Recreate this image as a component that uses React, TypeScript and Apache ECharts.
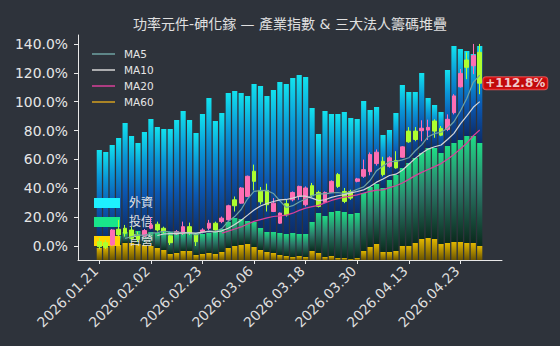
import React, { useEffect, useRef } from 'react';
import * as echarts from 'echarts';

const TITLE = '功率元件-砷化鎵 — 產業指數 & 三大法人籌碼堆疊';

const dates = [
  '2026.01.21', '2026.01.22', '2026.01.23', '2026.01.26', '2026.01.27', '2026.01.28', '2026.01.29', '2026.01.30',
  '2026.02.02', '2026.02.03', '2026.02.04', '2026.02.05', '2026.02.06', '2026.02.09', '2026.02.10', '2026.02.11',
  '2026.02.23', '2026.02.24', '2026.02.25', '2026.02.26', '2026.03.02', '2026.03.03', '2026.03.04', '2026.03.05',
  '2026.03.06', '2026.03.09', '2026.03.10', '2026.03.11', '2026.03.12', '2026.03.13', '2026.03.16', '2026.03.17',
  '2026.03.18', '2026.03.19', '2026.03.20', '2026.03.23', '2026.03.24', '2026.03.25', '2026.03.26', '2026.03.27',
  '2026.03.30', '2026.03.31', '2026.04.01', '2026.04.02', '2026.04.07', '2026.04.08', '2026.04.09', '2026.04.10',
  '2026.04.13', '2026.04.14', '2026.04.15', '2026.04.16', '2026.04.17', '2026.04.20', '2026.04.21', '2026.04.22',
  '2026.04.23', '2026.04.24', '2026.04.27', '2026.04.28',
];

// Industry index, % change (candles)
const openPct = [3.0, 2.3, 0.7, 11.6, 12.3, 11.1, 7.7, 7.0, 12.3, 15.1, 12.3, 7.0, 8.4, 8.8, 13.4, 7.7, 10.0, 12.3, 15.8, 16.9, 18.1, 32.0, 29.7, 34.3, 51.8, 38.5, 38.5, 23.9, 15.8, 29.3, 32.0, 34.3, 28.6, 41.8, 37.1, 30.2, 37.1, 49.5, 37.8, 37.8, 44.8, 48.3, 51.5, 57.1, 58.7, 55.2, 59.2, 61.5, 79.6, 79.6, 79.9, 80.3, 86.6, 81.5, 80.8, 92.4, 110.3, 128.9, 124.9, 134.2];
const closePct = [-0.5, -0.9, 11.1, 7.7, 8.8, 5.4, 4.7, 10.7, 14.6, 11.1, 10.0, 2.3, 10.0, 13.4, 9.3, 3.0, 11.1, 15.8, 11.1, 19.3, 27.9, 27.9, 40.2, 48.3, 44.8, 30.6, 28.6, 29.7, 22.8, 21.6, 37.1, 41.3, 40.2, 34.8, 27.4, 37.1, 44.8, 41.3, 30.9, 33.2, 46.5, 52.9, 63.4, 65.0, 49.5, 61.1, 54.1, 68.7, 72.2, 73.8, 81.6, 82.2, 79.6, 76.8, 87.8, 104.0, 119.6, 123.8, 131.9, 112.8];
const lowPct = [-2.1, -2.1, 0.0, 6.5, 6.5, 4.2, 3.0, 6.3, 11.6, 10.0, 8.8, 0.7, 7.7, 7.7, 7.7, 0.0, 8.8, 11.1, 10.7, 15.8, 17.6, 23.9, 29.3, 33.9, 38.5, 28.8, 23.9, 23.5, 15.3, 20.4, 30.9, 32.0, 27.4, 33.9, 26.7, 29.7, 36.7, 40.2, 29.7, 32.0, 44.1, 47.2, 49.0, 55.7, 48.3, 54.3, 53.6, 61.1, 71.5, 72.6, 72.6, 73.5, 75.0, 76.1, 79.6, 91.2, 109.8, 115.6, 119.1, 105.2];
const highPct = [5.6, 4.2, 11.8, 18.1, 14.6, 13.4, 10.0, 11.8, 20.0, 16.9, 13.4, 7.7, 11.1, 16.9, 16.2, 8.8, 12.3, 18.1, 16.9, 20.4, 28.6, 34.3, 40.9, 48.8, 56.4, 40.9, 43.2, 33.2, 23.2, 32.0, 37.8, 41.8, 41.3, 43.7, 38.3, 37.8, 45.5, 50.6, 40.2, 39.0, 47.2, 59.9, 64.8, 66.9, 61.8, 62.2, 65.7, 69.2, 82.4, 82.4, 87.1, 87.5, 87.8, 83.1, 91.2, 105.2, 122.6, 134.2, 140.0, 140.0];

// Institutional holdings, stacked (arbitrary units)
const dealer = [12, 13, 16, 15, 17, 17, 16, 15, 14, 12, 10, 6, 7, 9, 9, 5, 6, 7, 6, 8, 12, 14, 15, 16, 13, 10, 8, 7, 5, 4, 3, 4, 3, 9, 7, 3, 4, 2, 2, 1, 2, 9, 13, 16, 8, 8, 9, 14, 14, 17, 21, 22, 21, 16, 17, 18, 18, 17, 17, 14];
const trust = [7, 6, 6, 9, 11, 11, 13, 13, 14, 15, 18, 22, 20, 18, 19, 22, 20, 20, 22, 23, 26, 28, 26, 23, 25, 22, 20, 21, 22, 22, 24, 22, 23, 29, 40, 41, 44, 47, 46, 45, 45, 58, 60, 60, 64, 72, 76, 78, 83, 85, 86, 90, 91, 91, 97, 99, 102, 107, 107, 103];
const foreign = [91, 89, 93, 98, 109, 96, 88, 100, 113, 106, 103, 103, 113, 122, 112, 100, 120, 135, 111, 116, 129, 127, 126, 125, 138, 142, 136, 142, 151, 150, 155, 159, 157, 114, 79, 105, 98, 97, 100, 96, 94, 92, 77, 77, 53, 50, 62, 83, 71, 66, 80, 50, 43, 41, 76, 97, 91, 85, 82, 97];

const yTicks = [0, 20, 40, 60, 80, 100, 120, 140];
const xTickIdx = [0, 8, 16, 24, 32, 40, 48, 56];
const maPeriods = [5, 10, 20, 60];
const maColors = ['#6fa3a3', '#d6d6d6', '#d9409a', '#d4a020'];
const chipNames = ['外資', '投信', '自營'];

const FONT = "'DejaVu Sans', 'Noto Sans CJK TC', sans-serif";
const AXIS = '#e8e8e8';
const UP = '#ff6eb4';
const DOWN = '#adff2f';

function movingAverage(values: number[], n: number): (number | null)[] {
  return values.map((_, i) => {
    if (i < n - 1) return null;
    let s = 0;
    for (let k = i - n + 1; k <= i; k++) s += values[k];
    return +(s / n).toFixed(2);
  });
}

export default function App() {
  const ref = useRef<HTMLDivElement>(null);
  useEffect(() => {
    if (!ref.current) return;
    const chart = echarts.init(ref.current, null, { renderer: 'svg' });
    const G = echarts.graphic.LinearGradient;
    const blueGrad = new G(0, 0, 0, 1, [
      { offset: 0, color: '#12e2ee' },
      { offset: 0.3, color: '#0a96d6' },
      { offset: 0.62, color: '#0b58b2' },
      { offset: 1, color: '#0c2c68' },
    ]);
    const greenGrad = new G(0, 0, 0, 1, [
      { offset: 0, color: '#1fdc86' },
      { offset: 0.45, color: '#2c7a6a' },
      { offset: 1, color: '#0a2a1c' },
    ]);
    const yellowGrad = new G(0, 0, 0, 1, [
      { offset: 0, color: '#e2b700' },
      { offset: 1, color: '#6a5400' },
    ]);
    const chipData = [foreign, trust, dealer];
    const chipGrad = [blueGrad, greenGrad, yellowGrad];
    const chipSolid = ['#1ef0ff', '#19e58a', '#ffd400'];

    const barSeries = [2, 1, 0].map((k) => ({
      name: chipNames[k],
      type: 'bar',
      xAxisIndex: 1,
      yAxisIndex: 2,
      stack: 'chips',
      barWidth: '80%',
      data: chipData[k],
      itemStyle: { color: chipGrad[k] },
      z: 1,
    }));

    const maSeries = maPeriods.map((n, k) => ({
      name: 'MA' + n,
      type: 'line',
      xAxisIndex: 1,
      yAxisIndex: 1,
      data: movingAverage(closePct, n),
      showSymbol: false,
      symbol: 'none',
      itemStyle: { color: maColors[k] },
      lineStyle: { color: maColors[k], width: 1.2 },
      z: 4,
    }));

    const last = closePct.length - 1;

    const option: any = {
      animation: false,
      backgroundColor: '#2e333b',
      textStyle: { fontFamily: FONT },
      graphic: [
        {
          type: 'text',
          x: 290,
          y: 24,
          style: {
            text: TITLE,
            fill: '#e0e0e0',
            font: `14px ${FONT}`,
            textAlign: 'center',
            textVerticalAlign: 'middle',
          },
        },
      ],
      grid: [
        { left: 78, right: 58, top: 35, bottom: 86 },
        { left: 96.08, right: 77.04, top: 35, bottom: 86 },
      ],
      xAxis: [
        {
          gridIndex: 0,
          type: 'value',
          min: -3.3,
          max: 62.45,
          axisLine: { show: true, onZero: false, lineStyle: { color: AXIS, width: 1 } },
          axisTick: { show: true, length: 4, customValues: xTickIdx, lineStyle: { color: AXIS } },
          axisLabel: {
            show: true,
            customValues: xTickIdx,
            formatter: (v: number) => dates[Math.round(v)] ?? '',
            rotate: 45,
            fontSize: 13.9,
            color: '#dedede',
            margin: 5,
            padding: [0, 5, 0, 0],
            fontFamily: FONT,
          },
          splitLine: { show: false },
        },
        { gridIndex: 1, type: 'category', data: dates, boundaryGap: true, show: false },
      ],
      yAxis: [
        {
          gridIndex: 0,
          type: 'value',
          min: -9.7,
          max: 146.2,
          axisLine: { show: true, onZero: false, lineStyle: { color: AXIS, width: 1 } },
          axisTick: { show: true, length: 4, customValues: yTicks, lineStyle: { color: AXIS } },
          axisLabel: {
            show: true,
            customValues: yTicks,
            formatter: (v: number) => v.toFixed(1) + '%',
            fontSize: 13.9,
            color: '#e6e6e6',
            margin: 10,
            fontFamily: FONT,
          },
          splitLine: { show: false },
        },
        { gridIndex: 1, type: 'value', min: -9.7, max: 146.2, show: false, splitLine: { show: false } },
        { gridIndex: 1, type: 'value', min: 0, max: 225, show: false, splitLine: { show: false } },
      ],
      legend: [
        {
          data: maPeriods.map((n) => 'MA' + n),
          orient: 'vertical',
          left: 87,
          top: 43,
          icon: 'rect',
          itemWidth: 23,
          itemHeight: 1.5,
          itemGap: 4,
          selectedMode: false,
          textStyle: { color: '#e6e6e6', fontSize: 10.5, lineHeight: 12, fontFamily: FONT, padding: [0, 0, 0, 4] },
          z: 5,
        },
        {
          data: chipNames.map((nm, k) => ({ name: nm, itemStyle: { color: chipSolid[k] } })),
          orient: 'vertical',
          left: 89,
          top: 191,
          icon: 'rect',
          itemWidth: 26,
          itemHeight: 10,
          itemGap: 5,
          selectedMode: false,
          textStyle: { color: '#e0e0e0', fontSize: 12, lineHeight: 14, fontFamily: FONT, padding: [0, 0, 0, 4] },
          z: 2,
        },
      ],
      series: [
        ...barSeries,
        {
          name: '產業指數',
          type: 'candlestick',
          xAxisIndex: 1,
          yAxisIndex: 1,
          barWidth: '65%',
          data: dates.map((_, i) => [openPct[i], closePct[i], lowPct[i], highPct[i]]),
          itemStyle: { color: UP, color0: DOWN, borderColor: UP, borderColor0: DOWN, borderWidth: 1 },
          z: 3,
        },
        ...maSeries,
        {
          name: 'last',
          type: 'scatter',
          xAxisIndex: 1,
          yAxisIndex: 1,
          symbolSize: 1,
          itemStyle: { color: 'rgba(0,0,0,0)' },
          data: [[last, closePct[last]]],
          label: {
            show: true,
            position: 'right',
            distance: 3,
            formatter: () => '+' + closePct[last].toFixed(1) + '%',
            color: '#ffffff',
            fontWeight: 'bold',
            fontSize: 12,
            lineHeight: 12,
            fontFamily: FONT,
            backgroundColor: '#e60000',
            borderColor: '#ff5a5a',
            borderWidth: 1,
            borderRadius: 3,
            padding: [0, 2],
          },
          z: 6,
        },
      ],
    };
    chart.setOption(option);
    return () => chart.dispose();
  }, []);
  return <div ref={ref} style={{ position: 'fixed', left: 0, top: 0, width: 560, height: 346 }} />;
}
